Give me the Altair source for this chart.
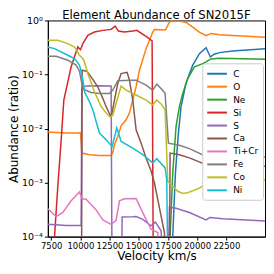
import altair as alt
import pandas as pd

elements = ["C", "O", "Ne", "Si", "S", "Ca", "Ti+Cr", "Fe", "Co", "Ni"]
colors = ["#1f77b4", "#ff7f0e", "#2ca02c", "#d62728", "#9467bd",
          "#8c564b", "#e377c2", "#7f7f7f", "#bcbd22", "#17becf"]

LOW = 1e-5

c_vel = [17682, 17910, 18138, 18395, 18623, 19051, 19621, 20191, 20762, 21132, 21475, 21903, 23043, 25810]
c_val = [2e-5, 1.0e-4, 0.00151, 0.00824, 0.0255, 0.070, 0.149, 0.243, 0.314, 0.211, 0.237, 0.254, 0.272, 0.301]

o_vel = [7215, 8783, 10010, 10124, 10780, 11635, 12634, 12776, 12919, 13204, 13489, 13917, 14202, 14487, 14773,
         15058, 15628, 16199, 16341, 17282, 17625, 17910, 18480, 19051, 19621, 20191, 20762, 21190, 21903, 25810]
o_val = [0.00863, 0.00824, 0.00824, 0.00352, 0.00328, 0.00318, 0.00318, 0.00362, 0.005, 0.00713, 0.0112, 0.0145,
         0.0193, 0.0337, 0.0593, 0.12, 0.301, 0.61, 0.683, 0.664, 0.932, 0.995, 0.972, 0.919, 0.754, 0.61, 0.522,
         0.576, 0.545, 0.487]

ne_vel = [17482, 17682, 17910, 18195, 18480, 18765, 19193, 19764, 20476, 20762, 21190, 21903, 25810]
ne_val = [2e-5, 1e-4, 0.0015, 0.011, 0.0255, 0.0447, 0.0842, 0.139, 0.159, 0.171, 0.194, 0.200, 0.191]

si_vel = [7586, 7785, 8070, 8356, 8584, 9211, 9782, 10010, 10209, 10637, 11208, 11921, 12634, 12976, 13261,
          13774, 14487, 14830, 15628, 16142, 16256, 17510, 17625, 17739, 25810]
si_val = [2e-5, 1e-4, 0.000857, 0.00617, 0.0337, 0.139, 0.323, 0.288, 0.372, 0.530, 0.610, 0.655, 0.683, 0.787,
          0.636, 0.610, 0.636, 0.655, 0.507, 0.417, LOW, LOW, 0.000128, LOW, LOW]

s_vel = [7215, 8783, 10067, 10124, 10495, 11635, 12634, 12719, 13518, 13575, 14487, 14773, 15343, 16056, 16427,
         16911, 17197, 17510, 17625, 18195, 19336, 20762, 21104, 22188, 25810]
s_val = [0.000169, 0.00016, 0.00016, 0.0576, 0.0611, 0.0618, 0.0611, LOW, LOW, 0.00023, 0.000232, 0.000236,
         0.000209, 0.000158, 0.000185, 0.000128, LOW, LOW, 0.00035, 0.000335, 0.00028, 0.000203, 0.000226,
         0.000215, 0.000194]

ca_vel = [7215, 10095, 10152, 10552, 10922, 11493, 11921, 12149, 12577, 12662, 12919, 13204, 13489, 14003, 14202,
          14487, 14773, 15201, 15628, 16056, 16341, 16626, 16911, 17197, 17339, 17625, 17682, 18480, 19336, 20762,
          21104, 22188, 25810]
ca_val = [LOW, LOW, 0.12, 0.115, 0.0904, 0.0593, 0.0362, 0.0273, 0.0171, 0.0171, 0.0337, 0.0682, 0.104, 0.110,
          0.0785, 0.0337, 0.0095, 0.00537, 0.00286, 0.00163, 0.00098, 0.000489, 0.00024, 0.000119, LOW, LOW,
          0.00352, 0.00328, 0.00286, 0.00215, 0.0025, 0.00231, 0.00201]

ticr_vel = [7215, 7928, 8498, 9211, 9924, 10152, 10495, 11350, 11921, 12634, 13061, 13347, 13774, 14773, 15201,
            15628, 16056, 16626, 17054, 25810]
ticr_val = [0.000327, 0.000235, 0.00028, 0.00046, 0.00067, 0.0005, 0.00049, 0.000312, 0.000203, 0.000169, 0.0002,
            0.00046, 0.0005, 0.000507, 0.00032, 0.000209, 0.000137, 0.000119, LOW, LOW]

fe_vel = [7215, 7928, 8926, 9639, 9924, 10124, 10295, 10922, 11635, 12491, 12776, 13204, 14345, 14773, 15628,
          16199, 16541, 16911, 17254, 17539, 18480, 19336, 20762, 21104, 22188, 25810]
fe_val = [0.218, 0.218, 0.184, 0.149, 0.115, 0.0682, 0.0529, 0.0466, 0.0447, 0.0447, 0.0515, 0.0767, 0.0785,
          0.0785, 0.0636, 0.0515, 0.0663, 0.0552, 0.0447, 0.00537, 0.0049, 0.00425, 0.00306, 0.00328, 0.00314,
          0.00297]

co_vel = [7215, 8070, 8926, 9496, 9924, 10124, 10295, 10637, 11208, 11778, 12206, 12577, 12776, 13061, 13489,
          13917, 14773, 15628, 16199, 16541, 16911, 17254, 17482, 17910, 18338, 18765, 19193, 20191, 20762, 21104,
          23043, 25810]
co_val = [0.429, 0.429, 0.372, 0.323, 0.227, 0.206, 0.184, 0.104, 0.048, 0.0255, 0.0193, 0.0162, 0.0178, 0.0293,
          0.0611, 0.0515, 0.0417, 0.0337, 0.0273, 0.0337, 0.0285, 0.0222, 0.00105, 0.00086, 0.00069, 0.00063,
          0.00065, 0.00079, 0.00095, 0.00098, 0.00103, 0.0011]

ni_vel = [7215, 7785, 8926, 9496, 9924, 10067, 10266, 10352, 10780, 11065, 11350, 11635, 12206, 12719, 13118,
          13489, 14487, 15343, 16199, 16541, 17254, 17396, 17510, 25810]
ni_val = [0.323, 0.301, 0.227, 0.197, 0.149, 0.112, 0.0682, 0.048, 0.0315, 0.0222, 0.01345, 0.00824, 0.00617,
          0.00466, 0.0102, 0.00576, 0.00435, 0.00328, 0.00231, 0.00277, 0.00187, 0.00113, LOW, LOW]

x_ticks = [7500, 10000, 12500, 15000, 17500, 20000, 22500]
y_ticks = [1e-4, 1e-3, 1e-2, 1e-1, 1]

series = [
    ("C", c_vel, c_val), ("O", o_vel, o_val), ("Ne", ne_vel, ne_val), ("Si", si_vel, si_val),
    ("S", s_vel, s_val), ("Ca", ca_vel, ca_val), ("Ti+Cr", ticr_vel, ticr_val), ("Fe", fe_vel, fe_val),
    ("Co", co_vel, co_val), ("Ni", ni_vel, ni_val),
]

rows = []
for k, (name, vs, ys) in enumerate(series):
    for i, (v, y) in enumerate(zip(vs, ys)):
        rows.append({"element": name, "velocity": v, "abundance": y, "i": i, "k": k})
df = pd.DataFrame(rows)

FONT = "DejaVu Sans"

label_expr = ("datum.value > 0.5 ? '10⁰' : datum.value > 0.05 ? '10⁻¹' : "
              "datum.value > 0.005 ? '10⁻²' : datum.value > 0.0005 ? '10⁻³' : '10⁻⁴'")

chart = alt.Chart(df).mark_line(strokeWidth=1.5, clip=True).encode(
    x=alt.X("velocity:Q",
            scale=alt.Scale(domain=[7215, 25810], nice=False, zero=False),
            axis=alt.Axis(values=x_ticks, format="d", title="Velocity km/s",
                          titleFontSize=12, titleFontWeight="normal", titleColor="black",
                          titleX=109, titleY=23, titleBaseline="alphabetic",
                          labelFontSize=8.5, labelColor="black", labelPadding=1,
                          tickSize=3.5, tickColor="black", domainColor="black",
                          grid=False, labelFlush=False, labelOverlap=False)),
    y=alt.Y("abundance:Q",
            scale=alt.Scale(type="log", domain=[1e-4, 1], nice=False),
            axis=alt.Axis(values=y_ticks, labelExpr=label_expr, title="Abundance (ratio)",
                          titleFontSize=12, titleFontWeight="normal", titleColor="black",
                          titleX=-30, titleY=108.5, titleAngle=270, titleBaseline="alphabetic",
                          labelFontSize=9.5, labelColor="black", labelPadding=2,
                          tickSize=3.5, tickColor="black", domainColor="black",
                          grid=False, labelFlush=False, labelOverlap=False)),
    color=alt.Color("element:N",
                    scale=alt.Scale(domain=elements, range=colors),
                    sort=elements,
                    legend=alt.Legend(orient="none", legendX=155, legendY=43, title=None,
                                      symbolType="M-1,0L2.6,0", symbolSize=121, symbolStrokeWidth=2,
                                      labelFontSize=9, labelColor="black", labelOffset=14,
                                      rowPadding=1, padding=4, fillColor="white",
                                      strokeColor="#cccccc", cornerRadius=3)),
    order="i:Q",
).properties(
    width=218, height=217,
    title=alt.TitleParams("Element Abundance of SN2015F", fontSize=11.7, fontWeight="normal",
                          anchor="middle", offset=0, dy=6, color="black", font=FONT),
    autosize=alt.AutoSizeParams(type="none"),
    padding={"left": 40, "top": 12, "right": 1, "bottom": 29},
).configure(font=FONT).configure_view(stroke="black", strokeWidth=1)

chart.save("out.html", embed_options={"renderer": "svg", "actions": False})
